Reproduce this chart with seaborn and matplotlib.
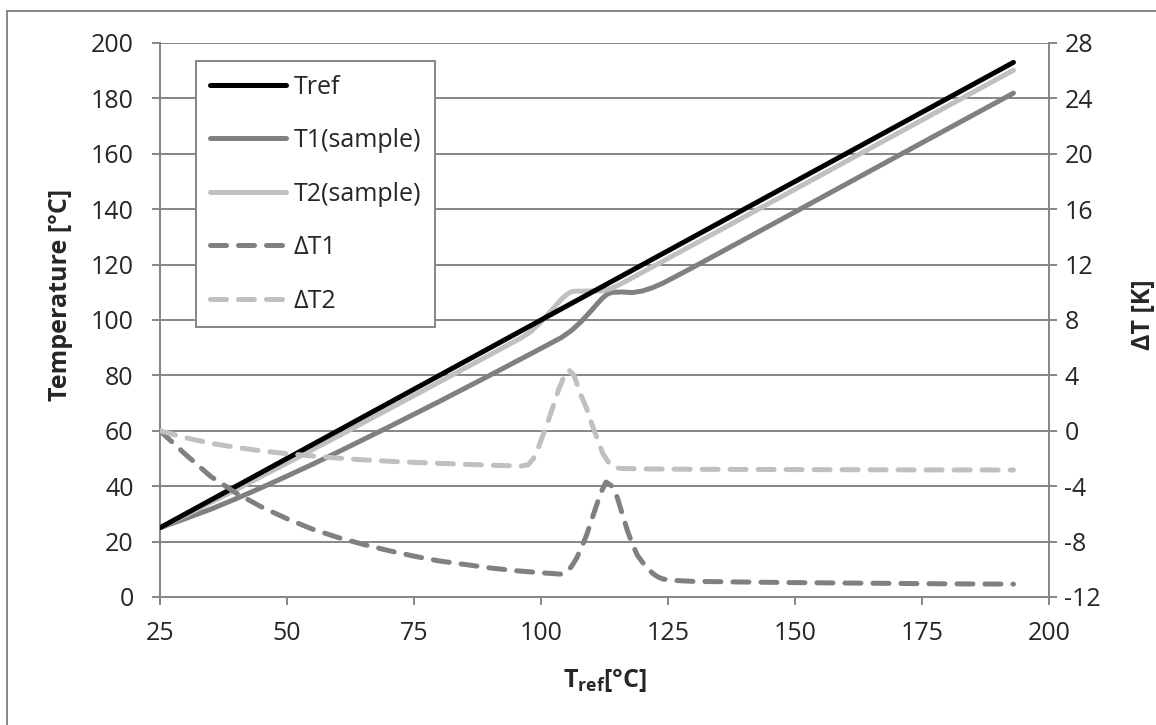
import numpy as np
import pandas as pd
import matplotlib
matplotlib.use("Agg")
import matplotlib.pyplot as plt
import seaborn as sns
from matplotlib.lines import Line2D

# ---- data ----
tref_x = [25, 193]
tref_y = [25, 193]

t1_x = [25, 30, 35, 40, 45, 50, 55, 60, 70, 80, 90, 100, 104, 106, 108, 110, 111, 112,
        113, 114, 116, 118, 120, 122, 124, 126, 130, 150, 170, 193]
t1_y = [25, 28.3, 31.7, 35.5, 39.5, 43.65, 47.9, 52.3, 61.35, 70.6, 80.1, 89.75, 93.65,
        96.2, 99.6, 103.6, 105.7, 107.7, 109.3, 110.0, 110.1, 109.9, 110.5, 111.7, 113.3,
        115.2, 119.1, 139.0, 159.0, 181.9]

t2_x = [25, 30, 40, 50, 60, 70, 80, 90, 96, 98, 100, 102, 104, 105, 106, 107, 108, 110,
        112, 113, 114, 116, 120, 130, 150, 170, 193]
t2_y = [25, 29.5, 38.8, 48.35, 58.0, 67.8, 77.65, 87.5, 93.45, 95.8, 99.3, 103.35, 107.45,
        109.15, 110.2, 110.45, 110.4, 110.5, 110.5, 110.9, 111.5, 113.3, 117.25, 127.22,
        147.2, 167.18, 190.17]

dt1_x = [25, 30, 35, 40, 45, 50, 55, 60, 65, 70, 75, 80, 85, 90, 95, 100, 104, 105, 106,
         107, 108, 109, 110, 111, 112, 112.8, 114, 115, 116, 117, 118, 119, 120, 121, 122,
         123, 124, 126, 130, 140, 150, 160, 170, 180, 193]
dt1_y = [0, -1.7, -3.3, -4.5, -5.5, -6.35, -7.1, -7.7, -8.2, -8.65, -9.05, -9.4, -9.65,
         -9.9, -10.1, -10.25, -10.35, -10.2, -9.8, -9.2, -8.4, -7.5, -6.4, -5.3, -4.3, -3.7,
         -4.0, -4.8, -6.0, -7.2, -8.2, -9.0, -9.5, -9.95, -10.3, -10.55, -10.7, -10.8,
         -10.87, -10.92, -10.96, -10.99, -11.02, -11.05, -11.07]

dt2_x = [25, 30, 35, 40, 45, 50, 55, 60, 65, 70, 75, 80, 85, 90, 96, 97.5, 98.5, 99.5,
         100.5, 101.5, 102.5, 103.5, 104.5, 105.5, 106.5, 107.7, 109, 110, 111, 112.2,
         113.5, 114.6, 116, 120, 130, 150, 170, 193]
dt2_y = [0, -0.5, -0.9, -1.2, -1.45, -1.65, -1.82, -1.97, -2.1, -2.2, -2.28, -2.35, -2.42,
         -2.48, -2.55, -2.45, -2.0, -1.2, -0.2, 0.8, 1.9, 3.0, 3.9, 4.4, 4.0, 2.7, 1.6, 0.5,
         -0.5, -1.66, -2.4, -2.67, -2.72, -2.75, -2.78, -2.8, -2.82, -2.83]

labels = ["Tref", "T1(sample)", "T2(sample)", "\u0394T1", "\u0394T2"]
x_ticks = [25, 50, 75, 100, 125, 150, 175, 200]
left_ticks = list(range(0, 201, 20))
right_ticks = list(range(-12, 29, 4))

# ---- style ----
sns.set_style("white")
plt.rcParams["font.family"] = ["Open Sans", "DejaVu Sans"]
plt.rcParams["axes.unicode_minus"] = False
plt.rcParams["mathtext.fontset"] = "custom"
plt.rcParams["mathtext.bf"] = "Open Sans:bold"
plt.rcParams["mathtext.rm"] = "Open Sans"

GRID = "#868686"
FS = 18

fig = plt.figure(figsize=(11.56, 7.25), dpi=100)
ax = fig.add_axes([160 / 1156, 1 - 597 / 725, (1049 - 160) / 1156, (597 - 43) / 725])
ax2 = ax.twinx()

lw = 3.6
dash = (0, (3.2, 2.4))
solid_kw = dict(lw=lw, solid_capstyle="round", solid_joinstyle="round", estimator=None, sort=False)
dash_kw = dict(lw=lw, linestyle=dash, dash_capstyle="round", dash_joinstyle="round",
               estimator=None, sort=False)

sns.lineplot(x=tref_x, y=tref_y, ax=ax, color="black", zorder=4, **solid_kw)
sns.lineplot(x=t1_x, y=t1_y, ax=ax, color="#808080", zorder=3, **solid_kw)
sns.lineplot(x=t2_x, y=t2_y, ax=ax, color="#c0c0c0", zorder=3.5, **solid_kw)
sns.lineplot(x=dt1_x, y=dt1_y, ax=ax2, color="#808080", **dash_kw)
sns.lineplot(x=dt2_x, y=dt2_y, ax=ax2, color="#c0c0c0", **dash_kw)

ax.set_xlim(25, 200)
ax.set_ylim(0, 200)
ax2.set_ylim(-12, 28)
ax.set_xticks(x_ticks)
ax.set_yticks(left_ticks)
ax2.set_yticks(right_ticks)

ax.yaxis.grid(True, color=GRID, lw=1.4)
ax.xaxis.grid(False)
ax.set_axisbelow(True)

for a in (ax, ax2):
    for s in a.spines.values():
        s.set_color(GRID)
        s.set_linewidth(1.4)
    a.spines["top"].set_visible(False)
ax.spines["right"].set_visible(False)
ax2.spines["left"].set_visible(False)
ax2.spines["bottom"].set_visible(False)

ax.tick_params(axis="y", which="both", left=True, direction="out", length=6, width=1.4,
               color=GRID, labelsize=FS, pad=13)
ax.tick_params(axis="x", which="both", bottom=True, direction="out", length=6, width=1.4,
               color=GRID, labelsize=FS, pad=11)
ax2.tick_params(axis="y", which="both", right=True, direction="out", length=6, width=1.4,
                color=GRID, labelsize=FS, pad=5)

ax.set_xlabel(r"$\mathbf{T_{ref}}$[°C]", fontsize=FS, fontweight="bold")
ax.xaxis.set_label_coords(0.5, -0.126)
ax.set_ylabel("Temperature [°C]", fontsize=FS, fontweight="bold")
ax.yaxis.set_label_coords(-0.098, 0.545)
ax2.set_ylabel("\u0394T [K]", fontsize=FS, fontweight="bold")
ax2.yaxis.set_label_coords(1.092, 0.509)

handles = [
    Line2D([], [], color="black", lw=lw, solid_capstyle="round"),
    Line2D([], [], color="#808080", lw=lw, solid_capstyle="round"),
    Line2D([], [], color="#c0c0c0", lw=lw, solid_capstyle="round"),
    Line2D([], [], color="#808080", lw=lw, linestyle=dash, dash_capstyle="round"),
    Line2D([], [], color="#c0c0c0", lw=lw, linestyle=dash, dash_capstyle="round"),
]
leg = ax2.legend(handles, labels, loc="upper left", bbox_to_anchor=(36 / 889, (597 - 61) / 554),
                 borderaxespad=0, fontsize=FS, frameon=True, fancybox=False,
                 handlelength=3.05, handletextpad=0.3, labelspacing=1.14,
                 borderpad=0.55, edgecolor=GRID, framealpha=1)
leg.get_frame().set_linewidth(1.4)
leg.set_zorder(10)

# outer chart border (top and left visible)
fig.add_artist(Line2D([7 / 1156, 1], [1 - 11 / 725, 1 - 11 / 725], transform=fig.transFigure,
                      color=GRID, lw=1.4))
fig.add_artist(Line2D([7 / 1156, 7 / 1156], [0, 1 - 11 / 725], transform=fig.transFigure,
                      color=GRID, lw=1.4))

fig.savefig("out.png", dpi=100, facecolor="white")
